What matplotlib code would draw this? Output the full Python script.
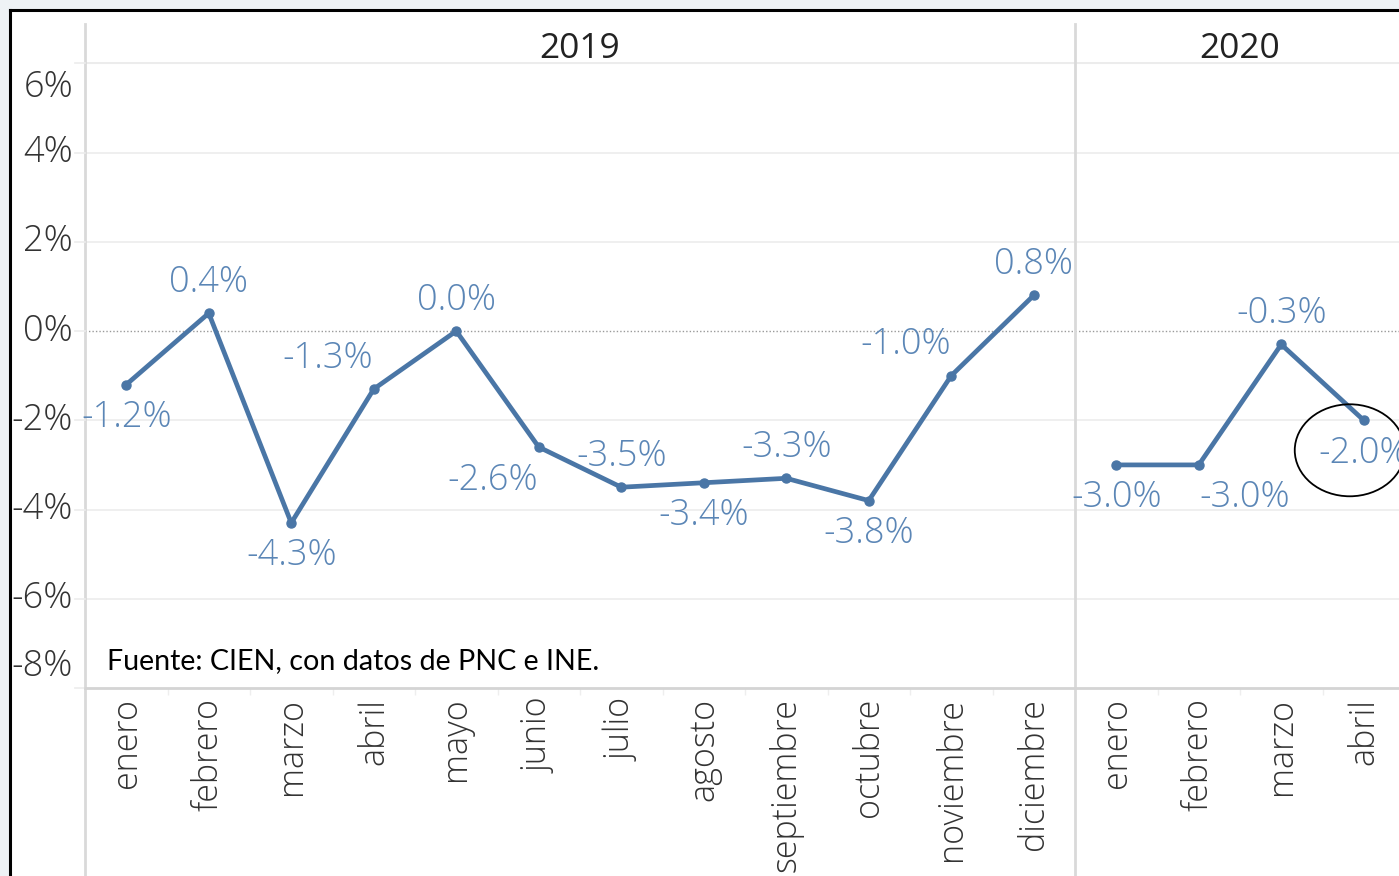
import matplotlib
matplotlib.use("Agg")
import matplotlib.pyplot as plt
import matplotlib.transforms as mtransforms
from matplotlib.patches import Ellipse, Rectangle
from matplotlib.lines import Line2D

# ---- data ----
years = ["2019", "2020"]
months_2019 = ["enero", "febrero", "marzo", "abril", "mayo", "junio", "julio",
               "agosto", "septiembre", "octubre", "noviembre", "diciembre"]
months_2020 = ["enero", "febrero", "marzo", "abril"]
values_2019 = [-1.2, 0.4, -4.3, -1.3, 0.0, -2.6, -3.5, -3.4, -3.3, -3.8, -1.0, 0.8]
values_2020 = [-3.0, -3.0, -0.3, -2.0]
label_pos_2019 = ["below", "above", "below", "above-left", "above", "below-left",
                  "above", "below", "above", "below", "above-left", "above"]
label_pos_2020 = ["below", "below-right", "above", "below"]
y_ticks = [-8, -6, -4, -2, 0, 2, 4, 6]
source_text = "Fuente: CIEN, con datos de PNC e INE."

# ---- style ----
W, H = 1399, 876
LINE_C = "#4a76a6"
LABEL_C = "#5b86b6"
TEXT_C = "#333333"
GRID_C = "#ececec"
DIV_C = "#d9d9d9"
FONT = "Open Sans"

fig = plt.figure(figsize=(W / 100, H / 100), dpi=100)
fig.patch.set_facecolor("#eef2f5")
# white card with black border
fig.patches.append(Rectangle((10 / W, 0), 1.0, 1 - 10 / H, transform=fig.transFigure,
                             facecolor="white", edgecolor="none", zorder=-5))
fig.lines.append(Line2D([10 / W, 10 / W], [0, 1 - 10 / H], transform=fig.transFigure,
                        color="black", lw=2.2, zorder=-4))
fig.lines.append(Line2D([10 / W, 1], [1 - 10 / H, 1 - 10 / H], transform=fig.transFigure,
                        color="black", lw=2.2, zorder=-4))

ax1 = fig.add_axes([85 / W, 1 - 688 / H, 990 / W, 626 / H])
ax2 = fig.add_axes([1075 / W, 1 - 688 / H, 330 / W, 626 / H])

ylo, yhi = -8, 6.03


def offset(dx_px, dy_px):
    return mtransforms.ScaledTranslation(dx_px / 100, dy_px / 100, fig.dpi_scale_trans)


for ax, months, vals, pos, year in [(ax1, months_2019, values_2019, label_pos_2019, years[0]),
                                    (ax2, months_2020, values_2020, label_pos_2020, years[1])]:
    ax.set_facecolor("none")
    n = len(months)
    x = list(range(n))
    ax.set_xlim(-0.5, n - 0.5)
    ax.set_ylim(ylo, yhi)
    for s in ["left", "right", "top"]:
        ax.spines[s].set_visible(False)
    ax.spines["bottom"].set_color("#d4d4d4")
    ax.spines["bottom"].set_linewidth(2)
    # grid
    for t in y_ticks:
        if t == 0:
            ax.axhline(0, color="#9a9a9a", lw=1, ls=(0, (1, 1.5)), zorder=1)
        elif t != ylo:
            ax.axhline(t, color=GRID_C, lw=1.5 if t == 6 else 1.2, zorder=1)
    ax.set_yticks([])
    ax.set_xticks(x)
    ax.set_xticklabels(months, rotation=90, fontsize=24.5, color=TEXT_C, family=FONT,
                       fontweight="light")
    ax.tick_params(axis="x", length=0, pad=7)
    ax.set_xticks([i + 0.5 for i in x[:-1]], minor=True)
    ax.tick_params(axis="x", which="minor", length=5, color="#eeeeee", width=1)
    # line
    ax.plot(x, vals, color=LINE_C, lw=3.4, marker="o", ms=6.5, zorder=3,
            solid_capstyle="round", clip_on=False)
    # value labels
    for xi, v, p in zip(x, vals, pos):
        dy = 31 if p.startswith("above") else -33
        dx = -46 if p.endswith("left") else (46 if p.endswith("right") else 0)
        ax.text(xi, v, f"{v:.1f}%", fontsize=26, color=LABEL_C, family=FONT,
                fontweight="light", ha="center", va="center",
                transform=ax.transData + offset(dx, dy), zorder=4, clip_on=False)
    # year header
    ax.text(0.5, 1.0, year, transform=ax.transAxes + offset(0, 13),
            ha="center", va="center", fontsize=25.5, color="#222222", family=FONT)
    # panel divider (left edge of each pane)
    ax.axvline(-0.5, ymin=-0.31, ymax=1.06, color=DIV_C, lw=2, clip_on=False, zorder=2)

# left tick stubs + y labels
ytr = ax1.get_yaxis_transform()
for t in y_ticks:
    ax1.add_line(Line2D([0, 0], [t, t], transform=ytr, color=GRID_C, lw=1.2, clip_on=False))
    ax1.plot([-0.5, -0.5 - 10 / 82.5], [t, t], color=GRID_C, lw=1.2, clip_on=False)
    dy = -24 if t == max(y_ticks) else (22 if t == min(y_ticks) else 0)
    ax1.text(0, t, f"{t}%", transform=ytr + offset(-12, dy), ha="right", va="center",
             fontsize=26, color=TEXT_C, family=FONT, fontweight="light")

# source note
ax1.text(0, 0, source_text, transform=ax1.transAxes + offset(22, 27),
         ha="left", va="center", fontsize=20.6, color="black", family="Lato")

# highlight ellipse around last 2020 value
ell_tr = fig.dpi_scale_trans + mtransforms.ScaledTranslation(len(values_2020) - 1, values_2020[-1], ax2.transData)
ax2.add_patch(Ellipse((-0.14, -0.30), 1.10, 0.92, transform=ell_tr, fill=False,
                      edgecolor="black", lw=1.3, clip_on=False, zorder=5))

fig.savefig("out.png", dpi=100)
